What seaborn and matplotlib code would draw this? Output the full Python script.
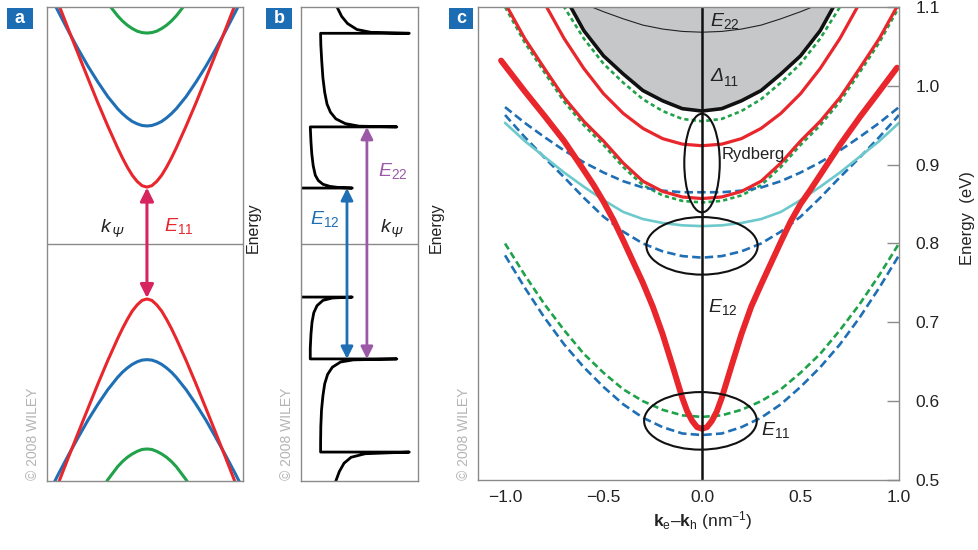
import numpy as np
import matplotlib
matplotlib.use('Agg')
import matplotlib.pyplot as plt
import seaborn as sns
from matplotlib.patches import Ellipse, Rectangle

# ---- panel a : band structure (arbitrary units) ----
k_a = [0.0, 0.05, 0.1, 0.15, 0.2, 0.25, 0.3, 0.4, 0.5, 0.6, 0.7, 0.8, 0.9, 1.0]
red_cond = [0.24, 0.246, 0.264, 0.29, 0.324, 0.363, 0.406, 0.498, 0.595, 0.697, 0.800, 0.904,
            1.010, 1.114]
blue_cond = [0.498, 0.500, 0.507, 0.517, 0.532, 0.55, 0.571, 0.622, 0.683, 0.749, 0.821, 0.897,
             0.977, 1.058]
green_cond = [0.89, 0.892, 0.898, 0.909, 0.923, 0.941, 0.963, 1.016, 1.08]
red_val = [-0.232, -0.238, -0.257, -0.283, -0.318, -0.357, -0.400, -0.492, -0.590, -0.692,
           -0.795, -0.899, -1.005, -1.11]
blue_val = [-0.488, -0.490, -0.497, -0.508, -0.523, -0.541, -0.563, -0.615, -0.676, -0.742,
            -0.815, -0.890, -0.968, -1.05]
green_val = [-0.865, -0.867, -0.875, -0.886, -0.9, -0.918, -0.94, -0.995, -1.06]

# ---- panel b : density of states ----
dos_x = [0.30, 0.33, 0.37, 0.43, 0.55, 0.926, 0.17, 0.17, 0.172, 0.178, 0.19, 0.205, 0.23,
         0.27, 0.34, 0.45, 0.82, 0.082, 0.082, 0.088, 0.097, 0.112, 0.14, 0.19, 0.27, 0.44,
         0.0, 0.0, 0.44, 0.33, 0.25, 0.19, 0.15, 0.125, 0.107, 0.095, 0.088, 0.082,
         0.82, 0.5, 0.38, 0.3, 0.254, 0.225, 0.205, 0.19, 0.18, 0.172, 0.17,
         0.926, 0.6, 0.48, 0.4, 0.35, 0.31]
dos_e = [-1.0, -0.96, -0.925, -0.9, -0.885, -0.878, -0.878, -0.84, -0.77, -0.70, -0.64, -0.59,
         -0.55, -0.52, -0.498, -0.489, -0.485, -0.485, -0.44, -0.38, -0.33, -0.29, -0.26,
         -0.238, -0.228, -0.224, -0.224, 0.236, 0.236, 0.238, 0.243, 0.252, 0.268, 0.29,
         0.33, 0.38, 0.43, 0.494, 0.494, 0.497, 0.508, 0.528, 0.556, 0.59, 0.64, 0.70, 0.77,
         0.84, 0.889, 0.889, 0.893, 0.905, 0.93, 0.96, 1.0]

# ---- panel c : exciton dispersions (eV vs nm^-1) ----
k_c = [0.0, 0.1, 0.2, 0.3, 0.4, 0.5, 0.6, 0.7, 0.8, 0.9, 1.0]
delta11_edge = [0.968, 0.971, 0.981, 0.994, 1.015, 1.038, 1.07, 1.115, 1.16]
e22_line = [1.068, 1.069, 1.072, 1.077, 1.085, 1.094, 1.104]
green_top = [0.955, 0.958, 0.968, 0.983, 1.004, 1.028, 1.06, 1.1, 1.15]
red_ryd1 = [0.924, 0.926, 0.933, 0.946, 0.965, 0.99, 1.022, 1.06, 1.105, 1.15]
red_ryd2 = [0.857, 0.859, 0.866, 0.879, 0.902, 0.93, 0.955, 0.985, 1.022, 1.06, 1.105]
green_mid = [0.852, 0.854, 0.861, 0.874, 0.897, 0.925, 0.95, 0.98, 1.017, 1.055, 1.1]
blue_high = [0.865, 0.865, 0.867, 0.871, 0.879, 0.89, 0.903, 0.918, 0.935, 0.953, 0.973]
cyan_e12 = [0.822, 0.823, 0.826, 0.831, 0.84, 0.855, 0.872, 0.89, 0.91, 0.93, 0.953]
blue_mid = [0.782, 0.784, 0.79, 0.80, 0.815, 0.834, 0.858, 0.884, 0.909, 0.935, 0.963]
green_low = [0.58, 0.582, 0.589, 0.6, 0.615, 0.636, 0.66, 0.69, 0.723, 0.76, 0.8]
blue_low = [0.557, 0.559, 0.567, 0.579, 0.596, 0.618, 0.643, 0.672, 0.706, 0.744, 0.785]
thick_k = [-1.02, -0.9, -0.8, -0.7, -0.6, -0.55, -0.5, -0.45, -0.4, -0.35, -0.3, -0.25, -0.2,
           -0.15, -0.1, -0.075, -0.05, -0.025, 0.0, 0.025, 0.05, 0.075, 0.1, 0.15, 0.2, 0.25,
           0.3, 0.35, 0.4, 0.45, 0.5, 0.55, 0.6, 0.7, 0.8, 0.9, 0.99]
thick_e = [1.032, 0.993, 0.962, 0.93, 0.893, 0.874, 0.853, 0.83, 0.804, 0.777, 0.75, 0.72,
           0.685, 0.645, 0.604, 0.587, 0.575, 0.567, 0.565, 0.567, 0.575, 0.587, 0.604, 0.645,
           0.685, 0.72, 0.748, 0.775, 0.802, 0.828, 0.85, 0.868, 0.887, 0.925, 0.96, 0.993,
           1.023]
x_ticks = [-1.0, -0.5, 0.0, 0.5, 1.0]
y_ticks = [0.5, 0.6, 0.7, 0.8, 0.9, 1.0, 1.1]

RED = '#e8262b'
BLUE = '#1f6fb5'
GREEN = '#1fa24a'
CYAN = '#6ec9cc'
PURPLE = '#9b59a8'
MAGENTA = '#d7245f'
GRAY = '#8a8a8a'
INK = '#222222'

sns.set_style('white')
plt.rcParams['font.family'] = ['Liberation Sans', 'DejaVu Sans']
plt.rcParams['mathtext.fontset'] = 'custom'
plt.rcParams['mathtext.rm'] = 'Liberation Sans'
plt.rcParams['mathtext.it'] = 'Liberation Sans:italic'
plt.rcParams['mathtext.bf'] = 'Liberation Sans:bold'
plt.rcParams['lines.solid_joinstyle'] = 'round'
plt.rcParams['lines.dash_joinstyle'] = 'round'


def mirror(k_half, e_half):
    k_half = np.asarray(k_half[:len(e_half)])
    e_half = np.asarray(e_half)
    return np.concatenate([-k_half[:0:-1], k_half]), np.concatenate([e_half[:0:-1], e_half])


def curve(ax, x, y, **kw):
    sns.lineplot(x=x, y=y, ax=ax, estimator=None, sort=False, legend=False, **kw)


def frame(ax):
    for s in ax.spines.values():
        s.set_color(GRAY)
        s.set_linewidth(1.0)


def italic_sub(ax, x, y, main, sub, color=INK, fs=14, va='center', sub_style='italic'):
    # italic symbol plus subscript (Greek letters stay upright in mathtext)
    t = ax.text(x, y, main, fontsize=fs, style='italic', color=color, ha='left', va=va)
    ax.annotate(sub, xy=(1, 0), xycoords=t, xytext=(0.5, -3), textcoords='offset points',
                fontsize=fs * 0.7, style=sub_style, color=color, ha='left', va='bottom')


fig = plt.figure(figsize=(9.79, 5.5), dpi=100)

# ---------------- panel a ----------------
ax_a = fig.add_axes([0.048, 0.1255, 0.2002, 0.8618])
for vals, col in [(green_cond, GREEN), (blue_cond, BLUE), (red_cond, RED),
                  (green_val, GREEN), (blue_val, BLUE), (red_val, RED)]:
    kk, ee = mirror(k_a, vals)
    curve(ax_a, kk, ee, color=col, lw=2.2)
ax_a.axhline(0, color=GRAY, lw=1.0)
ax_a.annotate('', xy=(0, 0.238), xytext=(0, -0.228),
              arrowprops=dict(arrowstyle='<|-|>', color=MAGENTA, lw=2.2,
                              mutation_scale=20, shrinkA=0, shrinkB=0))
italic_sub(ax_a, -0.47, 0.035, 'k', 'Ψ', va='bottom')
ax_a.text(0.17, 0.035, r'$E_{11}$', fontsize=14, color=RED, ha='left', va='bottom')
ax_a.set_xlim(-1.02, 0.98)
ax_a.set_ylim(-1, 1)
ax_a.set_xticks([])
ax_a.set_yticks([])
ax_a.set_xlabel('')
ax_a.set_ylabel('')
frame(ax_a)

# ---------------- panel b ----------------
ax_b = fig.add_axes([0.3071, 0.1255, 0.1198, 0.8618])
ax_b.axhline(0, color=GRAY, lw=1.0)
curve(ax_b, dos_x, dos_e, color='black', lw=2.0)
ax_b.annotate('', xy=(0.395, 0.236), xytext=(0.395, -0.485),
              arrowprops=dict(arrowstyle='<|-|>', color=BLUE, lw=2.0,
                              mutation_scale=18, shrinkA=0, shrinkB=0))
ax_b.annotate('', xy=(0.565, 0.494), xytext=(0.565, -0.485),
              arrowprops=dict(arrowstyle='<|-|>', color=PURPLE, lw=2.0,
                              mutation_scale=18, shrinkA=0, shrinkB=0))
ax_b.text(0.08, 0.105, r'$E_{12}$', fontsize=14, color=BLUE, ha='left', va='center')
ax_b.text(0.66, 0.31, r'$E_{22}$', fontsize=14, color=PURPLE, ha='left', va='center')
italic_sub(ax_b, 0.68, 0.035, 'k', 'Ψ', va='bottom')
ax_b.set_xlim(0, 1)
ax_b.set_ylim(-1, 1)
ax_b.set_xticks([])
ax_b.set_yticks([])
ax_b.set_xlabel('')
ax_b.set_ylabel('')
frame(ax_b)

# ---------------- panel c ----------------
ax_c = fig.add_axes([0.4883, 0.1273, 0.43, 0.86])
kk, ee = mirror(k_c, delta11_edge)
ax_c.fill_between(kk, ee, 1.2, color='#c6c7c9', lw=0, zorder=0)
kk, ee = mirror(k_c, e22_line)
curve(ax_c, kk, ee, color=INK, lw=0.8)

for vals, col, dash in [(green_top, GREEN, (1.6, 1.2)), (green_mid, GREEN, (1.6, 1.2)),
                        (green_low, GREEN, (2.6, 1.4)), (blue_low, BLUE, (3.2, 1.6)),
                        (blue_mid, BLUE, (3.2, 1.6)), (blue_high, BLUE, (3.2, 1.6))]:
    kk, ee = mirror(k_c, vals)
    curve(ax_c, kk, ee, color=col, lw=1.9, linestyle=(0, dash))

kk, ee = mirror(k_c, cyan_e12)
curve(ax_c, kk, ee, color=CYAN, lw=1.9)
for vals in [red_ryd1, red_ryd2]:
    kk, ee = mirror(k_c, vals)
    curve(ax_c, kk, ee, color=RED, lw=2.3)
curve(ax_c, thick_k, thick_e, color=RED, lw=4.3)
kk, ee = mirror(k_c, delta11_edge)
curve(ax_c, kk, ee, color='#111111', lw=2.6)

ax_c.axvline(0, color='#111111', lw=1.8)
for (cx, cy, w, h) in [(0.0, 0.902, 0.18, 0.125), (0.0, 0.797, 0.565, 0.073),
                       (-0.008, 0.575, 0.572, 0.073)]:
    ax_c.add_patch(Ellipse((cx, cy), w, h, fill=False, ec='#111111', lw=1.5, zorder=5))

ax_c.text(0.04, 1.082, r'$E_{22}$', fontsize=14, color=INK, ha='left', va='center')
italic_sub(ax_c, 0.04, 1.012, 'Δ', '11', sub_style='normal')
ax_c.text(0.1, 0.913, 'Rydberg', fontsize=12, color=INK, ha='left', va='center')
ax_c.text(0.03, 0.719, r'$E_{12}$', fontsize=14, color=INK, ha='left', va='center')
ax_c.text(0.30, 0.563, r'$E_{11}$', fontsize=14, color=INK, ha='left', va='center')

ax_c.set_xlim(-1.137, 1.0)
ax_c.set_ylim(0.5, 1.1)
ax_c.set_xticks(x_ticks)
ax_c.set_xticklabels([f'{v:.1f}'.replace('-', '\u2212') for v in x_ticks])
ax_c.set_yticks(y_ticks)
ax_c.set_yticklabels([f'{v:.1f}' for v in y_ticks])
ax_c.yaxis.tick_right()
ax_c.tick_params(axis='both', direction='in', length=9, width=1, color=GRAY,
                 labelsize=12.5, labelcolor=INK)
ax_c.tick_params(axis='y', pad=12)
ax_c.tick_params(axis='x', pad=7)
ax_c.set_xlabel(r'$\mathbf{k}_\mathrm{e}$' + '\u2013' + r'$\mathbf{k}_\mathrm{h}$ (nm$^{-1}$)',
                fontsize=12.5, color=INK)
ax_c.xaxis.set_label_coords(0.534, -0.062)
ax_c.set_ylabel('')
frame(ax_c)

# ---------------- figure decorations ----------------
W, H = 979.0, 550.0
for lab, x0, x1 in [('a', 7, 33), ('b', 266, 292), ('c', 449, 473)]:
    fig.add_artist(Rectangle((x0 / W, 1 - 29 / H), (x1 - x0) / W, 21 / H,
                             transform=fig.transFigure, fc='#1d6db4', ec='none'))
    fig.text((x0 + x1) / 2 / W, 1 - 18.5 / H, lab, color='white', fontsize=13,
             fontweight='bold', ha='center', va='center')

for x in [33, 287, 464]:
    fig.text(x / W, 1 - 480 / H, '\u00a9 2008 WILEY', rotation=90, color='#b4b4b4',
             fontsize=10, ha='center', va='bottom',
             family=['Liberation Sans Narrow', 'Liberation Sans', 'DejaVu Sans'])

for x in [253, 436]:
    fig.text(x / W, 1 - 228 / H, 'Energy', rotation=90, fontsize=11.5, color=INK,
             ha='center', va='center')
fig.text(968 / W, 1 - 218 / H, 'Energy  (eV)', rotation=90, fontsize=12, color=INK,
         ha='center', va='center')

fig.savefig('out.png', dpi=100)
